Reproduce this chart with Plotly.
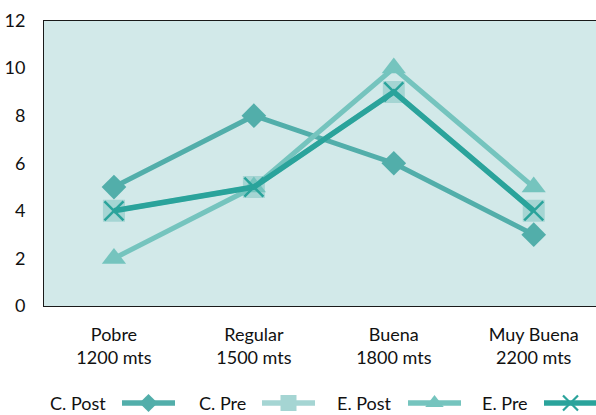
import plotly.graph_objects as go

W, H = 596, 415

# ---- data ----
categories = ["Pobre<br>1200 mts", "Regular<br>1500 mts", "Buena<br>1800 mts", "Muy Buena<br>2200 mts"]
series_names = ["C. Post", "C. Pre", "E. Post", "E. Pre"]
c_post = [5, 8, 6, 3]
c_pre = [4, 5, 9, 4]
e_post = [2, 5, 10, 5]
e_pre = [4, 5, 9, 4]
y_ticks = [0, 2, 4, 6, 8, 10, 12]

values = {"C. Post": c_post, "C. Pre": c_pre, "E. Post": e_post, "E. Pre": e_pre}

# ---- styles ----
FONT = "Lato"
BG = "#D2E9E9"
colors = {"C. Post": "#52AEAA", "C. Pre": "#A5D5D3", "E. Post": "#75C4BE", "E. Pre": "#2AA39B"}
symbols = {"C. Post": "diamond", "C. Pre": "square", "E. Post": "triangle-up", "E. Pre": "x-thin"}
sizes = {"C. Post": 19, "C. Pre": 22, "E. Post": 21, "E. Pre": 19}
legend_sizes = {"C. Post": 14, "C. Pre": 16, "E. Post": 16, "E. Pre": 15}
line_widths = {"C. Post": 5, "C. Pre": 5, "E. Post": 5, "E. Pre": 5.5}

# plot box in pixels (margins are zero, so the axis domains place the box)
L, T, B = 44, 20.5, 306
x_pos = list(range(len(categories)))

fig = go.Figure()

# teal plot-area fill (the subplot backgrounds themselves stay transparent)
fig.add_shape(type="rect", xref="x domain", yref="y domain", x0=0, x1=1, y0=0, y1=1,
              fillcolor=BG, line=dict(width=0), layer="below")

for name in series_names:
    is_x = symbols[name] == "x-thin"
    fig.add_trace(go.Scatter(
        x=x_pos, y=values[name], name=name, mode="lines+markers",
        line=dict(color=colors[name], width=line_widths[name]),
        marker=dict(symbol=symbols[name], size=sizes[name], color=colors[name],
                    line=dict(color=colors[name], width=2.5 if is_x else 0)),
        showlegend=False, hoverinfo="skip",
        xaxis="x", yaxis="y",
    ))

# ---- legend row below the plot, on a full-page axis measured in pixels ----
legend_y = 403
legend_key_x0 = [122, 262, 408, 544]
legend_key_len = 53
for name, x0 in zip(series_names, legend_key_x0):
    is_x = symbols[name] == "x-thin"
    fig.add_trace(go.Scatter(
        x=[x0, x0 + legend_key_len], y=[legend_y, legend_y], mode="lines",
        line=dict(color=colors[name], width=5.5),
        showlegend=False, hoverinfo="skip", xaxis="x2", yaxis="y2",
    ))
    fig.add_trace(go.Scatter(
        x=[x0 + legend_key_len / 2], y=[legend_y], mode="markers",
        marker=dict(symbol=symbols[name], size=legend_sizes[name], color=colors[name],
                    line=dict(color=colors[name], width=2.2 if is_x else 0)),
        showlegend=False, hoverinfo="skip", xaxis="x2", yaxis="y2",
    ))
    fig.add_annotation(
        x=x0 - 14, y=legend_y, xref="x2", yref="y2",
        text=name, showarrow=False,
        xanchor="right", yanchor="middle",
        font=dict(family=FONT, size=18, color="#111111"),
    )

fig.update_layout(
    width=W, height=H,
    margin=dict(l=0, r=0, t=0, b=0),
    paper_bgcolor="white",
    plot_bgcolor="rgba(0,0,0,0)",
    showlegend=False,
    font=dict(family=FONT, size=18, color="#111111"),
    xaxis=dict(
        domain=[L / W, 1.0],
        range=[-0.5, 3.445],
        tickvals=x_pos, ticktext=categories,
        showgrid=False, zeroline=False,
        showline=True, linecolor="#1a1a1a", linewidth=1, mirror=True,
        ticks="", ticklabelstandoff=12,
        tickfont=dict(family=FONT, size=18, color="#111111"),
        automargin=False, fixedrange=True,
    ),
    yaxis=dict(
        domain=[(H - B) / H, (H - T) / H],
        range=[0, 12],
        tickvals=y_ticks,
        showgrid=False, zeroline=False,
        showline=True, linecolor="#1a1a1a", linewidth=1,
        ticks="", ticklabelstandoff=14,
        tickfont=dict(family=FONT, size=18, color="#111111"),
        automargin=False, fixedrange=True,
    ),
    xaxis2=dict(domain=[0, 1], range=[0, W], visible=False, anchor="y2",
                showgrid=False, zeroline=False, fixedrange=True),
    yaxis2=dict(domain=[0, 1], range=[H, 0], visible=False, anchor="x2",
                showgrid=False, zeroline=False, fixedrange=True),
)

fig.write_html("out.html", config={"displayModeBar": False})
